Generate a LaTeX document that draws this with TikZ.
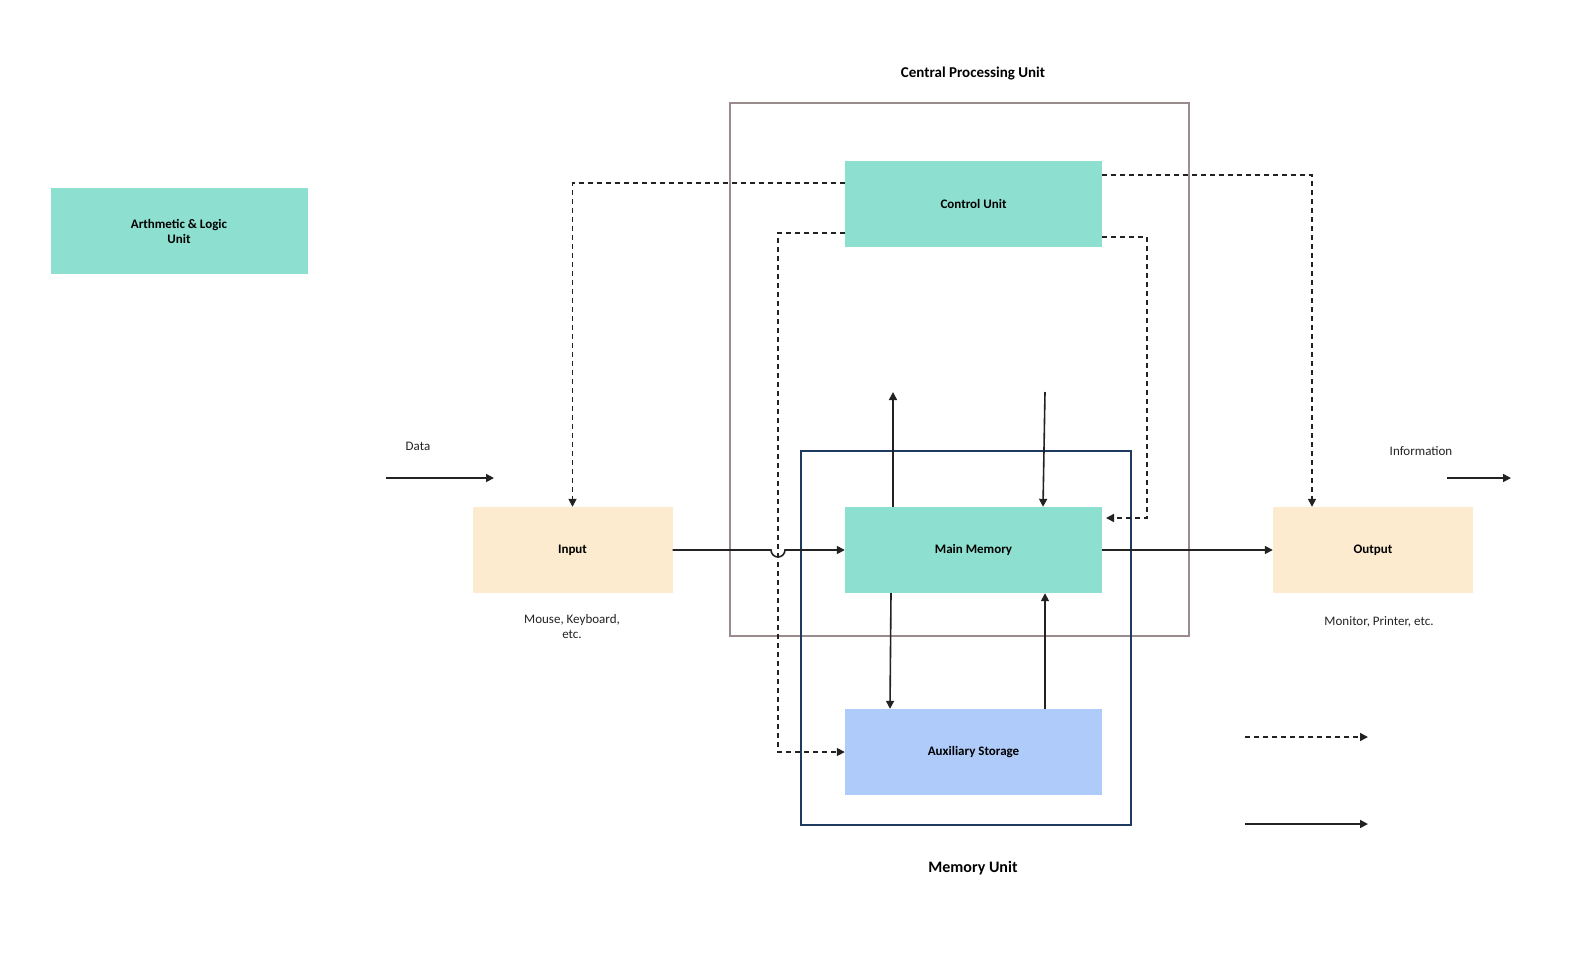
\documentclass[tikz,border=0pt]{standalone}
\usepackage{fontspec}
\setmainfont{Carlito}
\usetikzlibrary{arrows.meta}
\definecolor{teal1}{HTML}{8DE0D0}
\definecolor{peach}{HTML}{FDEBD0}
\definecolor{blue1}{HTML}{AECBFA}
\definecolor{cpuc}{HTML}{9A8C8C}
\definecolor{memc}{HTML}{1F3A5F}
\definecolor{ln}{HTML}{222222}
\begin{document}
\begin{tikzpicture}[x=1pt,y=-1pt,
  box/.style={minimum width=257pt,minimum height=86pt,inner sep=0pt,font=\fontsize{13}{15}\selectfont\bfseries,align=center},
  io/.style={box,minimum width=200pt,fill=peach},
  arr/.style={draw=ln,line width=1.6pt,-{Triangle[length=8pt,width=8pt]}},
  darr/.style={arr,dashed,dash pattern=on 5pt off 4pt},
  lab/.style={font=\fontsize{13}{15}\selectfont,align=center,text=ln}]
\useasboundingbox (0,0) rectangle (1580,954);
\draw[cpuc,line width=2pt] (730,103) rectangle (1189,636);
\draw[memc,line width=2pt] (801,451) rectangle (1131,825);
\node[font=\fontsize{15}{18}\selectfont\bfseries] (cput) at (973,74) {Central Processing Unit};
\node[font=\fontsize{16}{19}\selectfont\bfseries] (memt) at (973,868) {Memory Unit};
\node[box,fill=teal1] (alu) at (179,231) {Arthmetic \& Logic\\Unit};
\node[box,fill=teal1] (cu) at (973.5,204) {Control Unit};
\node[box,fill=teal1] (mm) at (973.5,550) {Main Memory};
\node[box,fill=blue1] (aux) at (973.5,752) {Auxiliary Storage};
\node[io] (in) at (572.5,550) {Input};
\node[io] (out) at (1373,550) {Output};
\node[lab] (datal) at (418,446) {Data};
\node[lab] (infol) at (1421,451) {Information};
\node[lab] (inl) at (572,627) {Mouse, Keyboard,\\etc.};
\node[lab] (outl) at (1379,622) {Monitor, Printer, etc.};
\coordinate (d1) at (386,478); \coordinate (d2) at (494,478);
\coordinate (i1) at (1447,478); \coordinate (i2) at (1511,478);
\draw[arr] (d1) -- (d2);
\draw[arr] (i1) -- (i2);
\draw[darr] (cu.west|-0,183) -| (in.north);
\draw[darr] (cu.west|-0,233) -- (778,233) |- (aux.west);
\draw[darr] (cu.east|-0,175) -| (out.north-|1312,0);
\draw[darr] (cu.east|-0,237) -- (1147,237) |- (1106,518);
\draw[arr] (in.east) -- (771,550) arc[start angle=180,end angle=0,radius=7] -- (mm.west);
\coordinate (u1) at (893,392); \coordinate (u2) at (1045,392);
\draw[arr] (mm.north-|893,0) -- (u1);
\draw[arr] (u2) -- (mm.north-|1043,0);
\draw[arr] (mm.south-|891,0) -- (aux.north-|890,0);
\draw[arr] (aux.north-|1045,0) -- (mm.south-|1045,0);
\draw[arr] (mm.east) -- (out.west);
\coordinate (l1) at (1245,737); \coordinate (l2) at (1368,737);
\coordinate (l3) at (1245,824); \coordinate (l4) at (1368,824);
\draw[darr] (l1) -- (l2);
\draw[arr] (l3) -- (l4);
\end{tikzpicture}
\end{document}
